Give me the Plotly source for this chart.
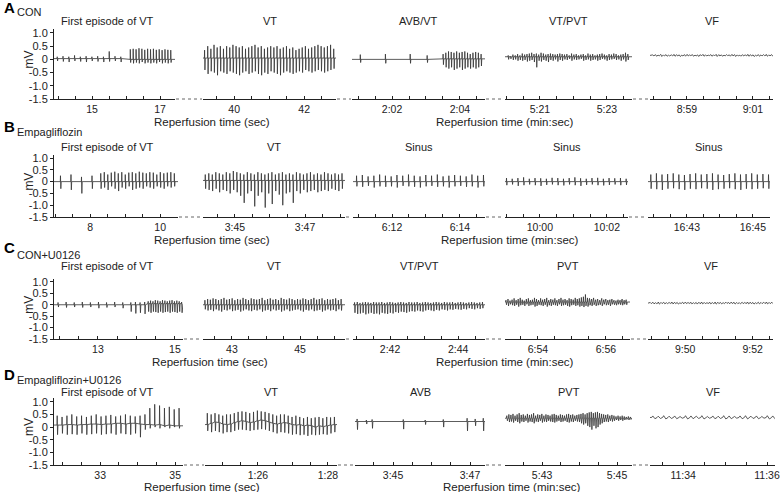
import plotly.graph_objects as go

# ------------------------------------------------------------------ data
ROW_LETTERS = ["A", "B", "C", "D"]
GROUPS = ["CON", "Empagliflozin", "CON+U0126", "Empagliflozin+U0126"]
RHYTHMS = [
    ["First episode of VT", "VT", "AVB/VT", "VT/PVT", "VF"],
    ["First episode of VT", "VT", "Sinus", "Sinus", "Sinus"],
    ["First episode of VT", "VT", "VT/PVT", "PVT", "VF"],
    ["First episode of VT", "VT", "AVB", "PVT", "VF"],
]
TICK_LABELS = [
    [["15", "17"], ["40", "42"], ["2:02", "2:04"], ["5:21", "5:23"], ["8:59", "9:01"]],
    [["8", "10"], ["3:45", "3:47"], ["6:12", "6:14"], ["10:00", "10:02"], ["16:43", "16:45"]],
    [["13", "15"], ["43", "45"], ["2:42", "2:44"], ["6:54", "6:56"], ["9:50", "9:52"]],
    [["33", "35"], ["1:26", "1:28"], ["3:45", "3:47"], ["5:43", "5:45"], ["11:34", "11:36"]],
]
# time window shown in each segment (s)
WINDOWS = [
    [(13.88, 17.44), (39.11, 42.91), (120.82, 124.74), (319.96, 323.75), (537.88, 541.61)],
    [(6.97, 10.51), (224.09, 228.14), (370.85, 374.74), (598.96, 602.63), (1001.82, 1005.52)],
    [(11.86, 15.21), (42.15, 46.32), (160.91, 164.79), (413.03, 416.71), (588.9, 592.6)],
    [(31.77, 35.21), (84.49, 88.26), (224.01, 227.39), (342.01, 345.4), (693.21, 696.19)],
]
X_TITLES = ["Reperfusion time (sec)", "Reperfusion time (min:sec)"]
Y_TICKS = [1.0, 0.5, 0, -0.5, -1.0, -1.5]
Y_TICK_TEXT = ["1.0", "0.5", "0", "-0.5", "-1.0", "-1.5"]

# beat trains: (timing, baseline mV, peak mV list, trough mV list, complex width s)
# timing = (first beat s, interval s) or an explicit list of beat times
A1 = [((13.97, 0.17), 0.03,
       [0.1, 0.12, 0.1, 0.15, 0.1, 0.12, 0.1, 0.12, 0.1, 0.3, 0.12, 0.1],
       [-0.06, -0.08, -0.1, -0.06, -0.08, -0.1, -0.06, -0.08, -0.1, -0.08, -0.06, -0.1], 0.025),
      ((16.12, 0.085), 0.0,
       [0.38, 0.4, 0.38, 0.42, 0.4, 0.36, 0.4, 0.38, 0.4, 0.36, 0.38, 0.35, 0.38, 0.36, 0.35],
       [-0.12, -0.15, -0.12, -0.15, -0.1, -0.15, -0.12, -0.15, -0.12, -0.15, -0.1, -0.15, -0.12, -0.15, -0.12], 0.025)]
A2 = [((39.15, 0.09), 0.05,
       [0.35, 0.5, 0.4, 0.55, 0.45, 0.5, 0.4, 0.5, 0.45, 0.55, 0.5, 0.45, 0.5, 0.4, 0.45, 0.5, 0.55, 0.45, 0.5, 0.4, 0.45,
        0.5, 0.45, 0.5, 0.4, 0.45, 0.5, 0.4, 0.45, 0.35, 0.4, 0.45, 0.5, 0.4, 0.45, 0.5, 0.55, 0.5, 0.45, 0.5, 0.55, 0.4],
       [-0.4, -0.55, -0.45, -0.5, -0.6, -0.45, -0.5, -0.55, -0.45, -0.5, -0.55, -0.6, -0.5, -0.45, -0.55, -0.5, -0.45,
        -0.55, -0.6, -0.5, -0.55, -0.45, -0.5, -0.55, -0.6, -0.5, -0.45, -0.5, -0.55, -0.5, -0.45, -0.5, -0.4, -0.45,
        -0.5, -0.45, -0.4, -0.45, -0.5, -0.45, -0.4, -0.35], 0.025)]
A3 = [([121.06, 121.8, 122.53, 123.03], 0.0, [0.18, 0.2, 0.2, 0.15], [-0.12, -0.15, -0.15, -0.12], 0.025),
      ((123.5, 0.08), 0.02,
       [0.2, 0.25, 0.3, 0.28, 0.25, 0.3, 0.25, 0.28, 0.3, 0.25, 0.2, 0.25, 0.28, 0.25, 0.2],
       [-0.2, -0.3, -0.35, -0.3, -0.4, -0.35, -0.3, -0.4, -0.35, -0.3, -0.35, -0.3, -0.35, -0.3, -0.25], 0.025)]
A4 = [((320.05, 0.07), 0.1,
       [0.15, 0.12, 0.18, 0.15, 0.2, 0.15, 0.22, 0.18, 0.2, 0.22, 0.25, 0.2, 0.22, 0.18, 0.25, 0.22, 0.18, 0.2, 0.22,
        0.2, 0.18, 0.2, 0.22, 0.2, 0.18, 0.2, 0.15, 0.22, 0.18, 0.2, 0.15, 0.18, 0.2, 0.15, 0.22, 0.18, 0.2, 0.15,
        0.18, 0.2, 0.22, 0.18, 0.15, 0.2, 0.18, 0.22, 0.2, 0.15, 0.18, 0.2, 0.25, 0.2],
       [0.0, 0.02, -0.02, 0.0, -0.05, -0.02, -0.05, -0.02, -0.08, -0.05, -0.02, -0.1, -0.3, -0.05, -0.08, -0.02,
        -0.05, -0.1, -0.02, -0.05, 0.0, -0.08, -0.02, -0.05, 0.0, -0.02, 0.02, -0.05, 0.0, -0.02, 0.0, 0.02, -0.05,
        -0.02, 0.0, -0.05, -0.02, 0.0, -0.05, -0.02, 0.02, 0.0, -0.05, -0.02, 0.0, 0.02, -0.02, 0.0, -0.05, 0.0,
        -0.08, -0.02], 0.03)]
A5 = [((537.95, 0.08), 0.15,
       [0.17, 0.18, 0.16, 0.19, 0.17, 0.18, 0.16, 0.17, 0.19, 0.18, 0.17, 0.16, 0.18, 0.19, 0.17, 0.18, 0.16, 0.17,
        0.18, 0.19, 0.17, 0.16, 0.18, 0.17, 0.19, 0.18, 0.17, 0.16, 0.18, 0.17, 0.19, 0.18, 0.17, 0.16, 0.18, 0.17,
        0.19, 0.18, 0.17, 0.16, 0.18, 0.17, 0.18, 0.19, 0.17, 0.18],
       [0.13, 0.12, 0.13, 0.11, 0.13, 0.12, 0.13, 0.14, 0.12, 0.13, 0.11, 0.13, 0.12, 0.13, 0.14, 0.12, 0.13, 0.11,
        0.13, 0.12, 0.13, 0.14, 0.12, 0.13, 0.11, 0.13, 0.12, 0.13, 0.14, 0.12, 0.13, 0.11, 0.13, 0.12, 0.13, 0.14,
        0.12, 0.13, 0.11, 0.13, 0.12, 0.13, 0.14, 0.12, 0.13, 0.13], 0.08)]

B1 = [([7.15, 7.45, 7.75, 8.05], 0.0, [0.25, 0.3, 0.2, 0.25], [-0.3, -0.35, -0.5, -0.3], 0.025),
      ((8.3, 0.1), 0.0,
       [0.35, 0.4, 0.3, 0.38, 0.42, 0.35, 0.4, 0.3, 0.38, 0.4, 0.35, 0.42, 0.38, 0.35, 0.4, 0.38, 0.3, 0.4, 0.35,
        0.38, 0.4, 0.35],
       [-0.3, -0.25, -0.35, -0.2, -0.3, -0.4, -0.25, -0.3, -0.2, -0.35, -0.3, -0.25, -0.3, -0.2, -0.25, -0.3, -0.2,
        -0.25, -0.3, -0.2, -0.25, -0.2], 0.025)]
B2 = [((224.15, 0.1), 0.05,
       [0.3, 0.35, 0.3, 0.4, 0.35, 0.3, 0.4, 0.35, 0.45, 0.4, 0.35, 0.3, 0.4, 0.35, 0.3, 0.4, 0.35, 0.3, 0.35, 0.4,
        0.3, 0.35, 0.4, 0.3, 0.35, 0.3, 0.4, 0.35, 0.3, 0.35, 0.4, 0.3, 0.35, 0.3, 0.4, 0.35, 0.3, 0.35, 0.3, 0.35],
       [-0.3, -0.35, -0.4, -0.3, -0.45, -0.35, -0.4, -0.5, -0.35, -0.45, -0.6, -0.9, -0.5, -0.4, -1.05, -0.6, -0.45,
        -1.1, -0.5, -0.95, -0.4, -0.55, -1.0, -0.5, -0.45, -0.9, -0.4, -0.5, -0.35, -0.45, -0.4, -0.35, -0.45, -0.4,
        -0.35, -0.4, -0.3, -0.35, -0.4, -0.3], 0.025)]
B3 = [((370.95, 0.17), 0.0,
       [0.25, 0.28, 0.22, 0.25, 0.3, 0.25, 0.22, 0.28, 0.25, 0.3, 0.25, 0.22, 0.28, 0.25, 0.3, 0.22, 0.25, 0.28,
        0.25, 0.22, 0.3, 0.25, 0.28],
       [-0.2, -0.22, -0.18, -0.25, -0.2, -0.22, -0.2, -0.25, -0.18, -0.2, -0.22, -0.25, -0.2, -0.18, -0.22, -0.2,
        -0.25, -0.2, -0.18, -0.22, -0.2, -0.25, -0.2], 0.025)]
B4 = [((599.0, 0.17), 0.0,
       [0.15, 0.12, 0.15, 0.18, 0.12, 0.15, 0.14, 0.12, 0.16, 0.15, 0.12, 0.15, 0.18, 0.14, 0.12, 0.15, 0.16, 0.12,
        0.15, 0.14, 0.15, 0.12],
       [-0.15, -0.12, -0.18, -0.15, -0.12, -0.15, -0.18, -0.14, -0.12, -0.15, -0.16, -0.12, -0.15, -0.18, -0.14,
        -0.12, -0.15, -0.16, -0.14, -0.12, -0.15, -0.14], 0.025)]
B5 = [((1001.9, 0.17), 0.0,
       [0.3, 0.35, 0.3, 0.32, 0.35, 0.3, 0.28, 0.32, 0.35, 0.3, 0.32, 0.35, 0.3, 0.28, 0.32, 0.35, 0.3, 0.32, 0.35,
        0.3, 0.32, 0.3],
       [-0.3, -0.32, -0.35, -0.3, -0.28, -0.32, -0.35, -0.3, -0.32, -0.28, -0.3, -0.35, -0.32, -0.3, -0.28, -0.32,
        -0.35, -0.3, -0.32, -0.3, -0.28, -0.3], 0.025)]

C1 = [((11.96, 0.21), 0.0, [0.1, 0.12, 0.1, 0.12, 0.1, 0.12, 0.1, 0.12, 0.1],
       [-0.1, -0.12, -0.1, -0.12, -0.1, -0.15, -0.12, -0.1, -0.15], 0.025),
      ((13.85, 0.12), 0.0, [0.1, 0.12, 0.1, 0.12], [-0.3, -0.38, -0.35, -0.4], 0.025),
      ((14.3, 0.062), 0.05,
       [0.15, 0.18, 0.15, 0.2, 0.18, 0.15, 0.2, 0.18, 0.15, 0.18, 0.2, 0.15, 0.18, 0.15, 0.12],
       [-0.3, -0.35, -0.3, -0.32, -0.35, -0.3, -0.35, -0.32, -0.3, -0.35, -0.3, -0.32, -0.35, -0.3, -0.35], 0.03)]
C2 = [((42.2, 0.08), 0.0,
       [0.2, 0.25, 0.22, 0.28, 0.25, 0.2, 0.25, 0.3, 0.22, 0.25, 0.28, 0.2, 0.25, 0.22, 0.3, 0.25, 0.2, 0.28, 0.25,
        0.22, 0.25, 0.3, 0.2, 0.25, 0.28, 0.22, 0.25, 0.2, 0.3, 0.25, 0.22, 0.28, 0.25, 0.2, 0.25, 0.22, 0.28, 0.25,
        0.2, 0.25, 0.3, 0.22, 0.25, 0.28, 0.2, 0.25, 0.22, 0.25, 0.28, 0.2, 0.25],
       [-0.2, -0.25, -0.22, -0.28, -0.2, -0.25, -0.3, -0.22, -0.25, -0.2, -0.28, -0.25, -0.22, -0.3, -0.25, -0.2,
        -0.25, -0.28, -0.22, -0.25, -0.2, -0.3, -0.25, -0.22, -0.28, -0.2, -0.25, -0.22, -0.3, -0.25, -0.2, -0.28,
        -0.25, -0.22, -0.2, -0.25, -0.3, -0.22, -0.25, -0.2, -0.28, -0.25, -0.22, -0.3, -0.25, -0.2, -0.25, -0.22,
        -0.28, -0.2, -0.25], 0.03)]
C3 = [((160.95, 0.08), 0.0,
       [0.1, 0.12, 0.08, 0.1, 0.12, 0.1, 0.08, 0.12, 0.1, 0.1, 0.12, 0.08, 0.1, 0.12, 0.1, 0.08, 0.1, 0.12, 0.1,
        0.08, 0.12, 0.1, 0.1, 0.12, 0.08, 0.1, 0.12, 0.1, 0.08, 0.1, 0.12, 0.1, 0.08, 0.12, 0.1, 0.1, 0.12, 0.08,
        0.1, 0.12, 0.1, 0.08, 0.1, 0.12, 0.1, 0.08, 0.1, 0.12],
       [-0.35, -0.4, -0.38, -0.35, -0.42, -0.38, -0.35, -0.4, -0.38, -0.42, -0.35, -0.38, -0.4, -0.35, -0.38, -0.32,
        -0.35, -0.3, -0.32, -0.35, -0.3, -0.28, -0.3, -0.25, -0.28, -0.3, -0.25, -0.22, -0.25, -0.28, -0.22, -0.25,
        -0.2, -0.22, -0.25, -0.2, -0.22, -0.18, -0.2, -0.22, -0.18, -0.2, -0.15, -0.18, -0.2, -0.15, -0.18, -0.15],
       0.03)]
C4 = [((413.05, 0.06), 0.12,
       [0.2, 0.25, 0.18, 0.22, 0.28, 0.2, 0.25, 0.3, 0.22, 0.18, 0.25, 0.28, 0.2, 0.22, 0.3, 0.25, 0.2, 0.28, 0.22,
        0.25, 0.3, 0.2, 0.25, 0.22, 0.28, 0.2, 0.25, 0.3, 0.22, 0.25, 0.2, 0.28, 0.25, 0.22, 0.3, 0.25, 0.28, 0.32,
        0.35, 0.45, 0.3, 0.28, 0.25, 0.3, 0.22, 0.25, 0.2, 0.28, 0.22, 0.25, 0.2, 0.22, 0.25, 0.2, 0.18, 0.22, 0.2,
        0.25, 0.2, 0.22],
       [0.0, -0.05, 0.02, -0.02, -0.05, 0.0, -0.08, -0.02, 0.0, -0.05, 0.02, -0.05, -0.02, 0.0, -0.08, -0.05, 0.0,
        -0.02, -0.05, 0.0, -0.08, -0.02, -0.05, 0.0, -0.02, -0.05, 0.02, -0.05, -0.02, 0.0, -0.05, -0.08, -0.02, 0.0,
        -0.05, -0.02, -0.08, -0.05, -0.1, -0.05, -0.08, -0.02, -0.05, 0.0, -0.05, -0.02, 0.0, -0.05, 0.02, -0.02,
        0.0, -0.05, 0.02, 0.0, -0.02, 0.02, 0.0, -0.02, 0.02, 0.0], 0.04)]
C5 = [((588.95, 0.08), 0.07,
       [0.1, 0.11, 0.09, 0.12, 0.1, 0.11, 0.09, 0.1, 0.12, 0.11, 0.1, 0.09, 0.11, 0.12, 0.1, 0.11, 0.09, 0.1, 0.11,
        0.12, 0.1, 0.09, 0.11, 0.1, 0.12, 0.11, 0.1, 0.09, 0.11, 0.1, 0.12, 0.11, 0.1, 0.09, 0.11, 0.1, 0.12, 0.11,
        0.1, 0.09, 0.11, 0.1, 0.11, 0.12, 0.1, 0.11],
       [0.05, 0.04, 0.05, 0.03, 0.05, 0.04, 0.05, 0.06, 0.04, 0.05, 0.03, 0.05, 0.04, 0.05, 0.06, 0.04, 0.05, 0.03,
        0.05, 0.04, 0.05, 0.06, 0.04, 0.05, 0.03, 0.05, 0.04, 0.05, 0.06, 0.04, 0.05, 0.03, 0.05, 0.04, 0.05, 0.06,
        0.04, 0.05, 0.03, 0.05, 0.04, 0.05, 0.06, 0.04, 0.05, 0.05], 0.08)]

D1 = [((31.85, 0.13),
       [0.08, 0.08, 0.1, 0.1, 0.08, 0.1, 0.1, 0.12, 0.12, 0.1, 0.12, 0.12, 0.15, 0.15, 0.12, 0.15, 0.15, 0.12, 0.1,
        0.1, 0.08, 0.1, 0.05, 0.08, 0.05, 0.05],
       [0.45, 0.4, 0.45, 0.5, 0.42, 0.45, 0.4, 0.45, 0.5, 0.42, 0.45, 0.48, 0.42, 0.45, 0.5, 0.45, 0.42, 0.45, 0.5,
        0.75, 0.9, 0.85, 0.75, 0.8, 0.7, 0.75],
       [-0.3, -0.25, -0.3, -0.28, -0.3, -0.25, -0.3, -0.28, -0.25, -0.3, -0.28, -0.25, -0.3, -0.25, -0.28, -0.3,
        -0.25, -0.4, -0.1, -0.05, 0.0, -0.05, 0.0, -0.05, 0.0, -0.05], 0.025)]
D2 = [((84.55, 0.11),
       [0.1, 0.15, 0.2, 0.18, 0.12, 0.1, 0.12, 0.18, 0.22, 0.25, 0.22, 0.18, 0.2, 0.25, 0.28, 0.25, 0.2, 0.15, 0.12,
        0.15, 0.18, 0.15, 0.1, 0.08, 0.1, 0.05, 0.08, 0.05, 0.0, 0.05, 0.02, 0.05, 0.08, 0.1],
       [0.55, 0.5, 0.55, 0.5, 0.45, 0.5, 0.5, 0.55, 0.6, 0.62, 0.6, 0.55, 0.6, 0.65, 0.62, 0.6, 0.55, 0.5, 0.45, 0.5,
        0.5, 0.45, 0.4, 0.45, 0.4, 0.35, 0.4, 0.35, 0.38, 0.4, 0.35, 0.4, 0.38, 0.4],
       [-0.15, -0.2, -0.15, -0.2, -0.25, -0.2, -0.2, -0.15, -0.1, -0.1, -0.12, -0.15, -0.12, -0.1, -0.08, -0.1,
        -0.15, -0.2, -0.25, -0.2, -0.22, -0.25, -0.3, -0.28, -0.32, -0.3, -0.35, -0.3, -0.32, -0.3, -0.28, -0.3,
        -0.25, -0.2], 0.03)]
D3 = [([224.06, 224.3, 224.45, 225.26, 225.83, 226.3, 226.92, 227.13, 227.34], 0.22,
       [0.32, 0.28, 0.3, 0.3, 0.28, 0.3, 0.35, 0.32, 0.35],
       [-0.1, 0.12, -0.05, -0.08, 0.1, 0.0, -0.15, 0.05, -0.15], 0.025)]
D4 = [((342.05, 0.055), 0.35,
       [0.45, 0.5, 0.48, 0.52, 0.45, 0.5, 0.55, 0.48, 0.5, 0.45, 0.52, 0.48, 0.5, 0.55, 0.45, 0.5, 0.48, 0.52, 0.45,
        0.5, 0.48, 0.45, 0.5, 0.52, 0.48, 0.45, 0.5, 0.48, 0.45, 0.5, 0.52, 0.48, 0.5, 0.45, 0.48, 0.5, 0.52, 0.55,
        0.5, 0.55, 0.58, 0.6, 0.55, 0.58, 0.6, 0.55, 0.52, 0.5, 0.48, 0.5, 0.45, 0.48, 0.45, 0.42, 0.45, 0.42, 0.45,
        0.42, 0.4, 0.42, 0.4],
       [0.25, 0.2, 0.22, 0.18, 0.25, 0.2, 0.15, 0.22, 0.2, 0.25, 0.18, 0.22, 0.2, 0.15, 0.22, 0.2, 0.25, 0.18, 0.22,
        0.2, 0.25, 0.22, 0.2, 0.18, 0.22, 0.25, 0.2, 0.22, 0.25, 0.2, 0.18, 0.22, 0.2, 0.25, 0.22, 0.2, 0.15, 0.1,
        0.15, 0.05, 0.0, -0.1, 0.05, -0.05, 0.0, 0.1, 0.15, 0.2, 0.22, 0.2, 0.25, 0.22, 0.25, 0.28, 0.25, 0.28, 0.25,
        0.28, 0.3, 0.28, 0.3], 0.04)]
D5 = [((693.25, 0.13), 0.38,
       [0.44, 0.43, 0.45, 0.43, 0.44, 0.42, 0.45, 0.44, 0.43, 0.45, 0.42, 0.44, 0.43, 0.45, 0.44, 0.42, 0.44, 0.45,
        0.43, 0.44, 0.42, 0.45, 0.44],
       [0.33, 0.34, 0.32, 0.34, 0.33, 0.35, 0.32, 0.33, 0.34, 0.32, 0.35, 0.33, 0.34, 0.32, 0.33, 0.35, 0.33, 0.32,
        0.34, 0.33, 0.35, 0.32, 0.33], 0.13)]

PANELS = [[A1, A2, A3, A4, A5], [B1, B2, B3, B4, B5], [C1, C2, C3, C4, C5], [D1, D2, D3, D4, D5]]

# ------------------------------------------------------------------ layout (pixels)
W, H = 783, 492
ROW_PX = [(29, 99), (154.5, 217), (278.5, 339), (398, 465)]        # top / bottom of plot strip
SEG_PX = [
    [(54, 175), (203, 336), (352, 485), (505, 632), (650, 773)],
    [(54, 178), (203, 345), (353, 485), (505, 628), (648, 770)],
    [(54, 183), (203, 345), (353, 485), (505, 630), (648, 773)],
    [(54, 183), (205, 337), (355, 485), (505, 632), (650, 775)],
]
LETTER_Y = [7, 126, 248, 374]
GROUP_Y = [12, 132, 255, 380]
RHYTHM_Y = [21, 147, 266, 392]
TITLE_Y = [121.5, 240, 362, 486.5]
TITLE_X = [(212, 505), (212, 510), (210, 505), (202, 512)]
FONT = "Liberation Sans, Arial, sans-serif"
INK = "#222222"


def px(x):
    return x / W


def py(y):
    return 1 - y / H


def secs(label):
    if ":" in label:
        m, s = label.split(":")
        return int(m) * 60 + int(s)
    return int(label)


def build(trains, win):
    xs, ys = [win[0]], []
    first_base = trains[0][1]
    ys.append(first_base[0] if isinstance(first_base, list) else first_base)
    for timing, base, up, dn, w in trains:
        if isinstance(timing, tuple):
            t0, rr = timing
            times = [t0 + i * rr for i in range(len(up))]
        else:
            times = timing
        for i, (t, u, d) in enumerate(zip(times, up, dn)):
            b = base[i] if isinstance(base, list) else base
            xs += [t, t + 0.2 * w, t + 0.6 * w, t + w]
            ys += [b, u, d, b]
    xs.append(win[1])
    ys.append(ys[-1])
    return xs, ys


fig = go.Figure()
lay = dict(width=W, height=H, margin=dict(l=0, r=0, t=0, b=0, pad=0, autoexpand=False),
           paper_bgcolor="white", plot_bgcolor="white", showlegend=False,
           font=dict(family=FONT, size=11, color=INK))
annotations, shapes = [], []

for r in range(4):
    top, bot = ROW_PX[r]
    yid = "y" if r == 0 else f"y{r + 1}"
    ykey = "yaxis" if r == 0 else f"yaxis{r + 1}"
    first_x = None
    for k in range(5):
        idx = r * 5 + k + 1
        xid = "x" if idx == 1 else f"x{idx}"
        xkey = "xaxis" if idx == 1 else f"xaxis{idx}"
        if k == 0:
            first_x = xid
        win = WINDOWS[r][k]
        labs = TICK_LABELS[r][k]
        labsec = {secs(l): l for l in labs}
        tv, tt = [], []
        v = int(win[0] * 2 + 1) / 2.0
        while v <= win[1]:
            tv.append(v)
            tt.append(labsec.get(v, "") if float(v).is_integer() else "")
            v += 0.5
        x0, x1 = SEG_PX[r][k]
        lay[xkey] = dict(domain=[px(x0), px(x1)], range=list(win), anchor=yid, showline=True,
                         linecolor=INK, linewidth=1, showgrid=False, zeroline=False, automargin=False,
                         tickmode="array", tickvals=tv, ticktext=tt, ticks="inside", ticklen=3,
                         ticklabelstandoff=0,
                         tickcolor=INK, tickfont=dict(size=10.5, color=INK, family=FONT), fixedrange=True)
        xs, ys = build(PANELS[r][k], win)
        fig.add_trace(go.Scatter(x=xs, y=ys, mode="lines", line=dict(color="#333333", width=0.8),
                                 xaxis=xid, yaxis=yid, hoverinfo="skip"))
        if k == 0:
            annotations.append(dict(text=RHYTHMS[r][k], x=px(59), y=py(RHYTHM_Y[r]), xref="paper",
                                    yref="paper", xanchor="left", yanchor="middle", showarrow=False,
                                    font=dict(size=11, color=INK, family=FONT)))
        else:
            annotations.append(dict(text=RHYTHMS[r][k], x=px((x0 + x1) / 2), y=py(RHYTHM_Y[r]),
                                    xref="paper", yref="paper", xanchor="center", yanchor="middle",
                                    showarrow=False, font=dict(size=11, color=INK, family=FONT)))
        if k < 4:
            nx0 = SEG_PX[r][k + 1][0]
            shapes.append(dict(type="line", xref="paper", yref="paper", x0=px(x1 + 1), x1=px(nx0 - 1),
                               y0=py(bot), y1=py(bot), line=dict(color="#666666", width=1, dash="dot")))
    lay[ykey] = dict(domain=[py(bot), py(top)], range=[-1.5, 1.15], anchor=first_x, showline=True,
                     linecolor=INK, linewidth=1, showgrid=False, zeroline=False, automargin=False,
                     tickmode="array",
                     tickvals=Y_TICKS, ticktext=Y_TICK_TEXT, ticks="outside", ticklen=3, tickcolor=INK,
                     tickfont=dict(size=11, color=INK, family=FONT), fixedrange=True)
    annotations.append(dict(text=f"<b>{ROW_LETTERS[r]}</b>", x=px(2), y=py(LETTER_Y[r]), xref="paper",
                            yref="paper", xanchor="left", yanchor="middle", showarrow=False,
                            font=dict(size=15, color="#000", family=FONT)))
    annotations.append(dict(text=GROUPS[r], x=px(15), y=py(GROUP_Y[r]), xref="paper", yref="paper",
                            xanchor="left", yanchor="middle", showarrow=False,
                            font=dict(size=11, color=INK, family=FONT)))
    y0px = top + (bot - top) * (1.15 - 0) / 2.65
    annotations.append(dict(text="mV", x=px(29), y=py(y0px), xref="paper", yref="paper",
                            xanchor="center", yanchor="middle", textangle=-90, showarrow=False,
                            font=dict(size=12, color=INK, family=FONT)))
    for j, t in enumerate(X_TITLES):
        annotations.append(dict(text=t, x=px(TITLE_X[r][j]), y=py(TITLE_Y[r]), xref="paper",
                                yref="paper", xanchor="center", yanchor="middle", showarrow=False,
                                font=dict(size=11.5, color=INK, family=FONT)))

lay["annotations"] = annotations
lay["shapes"] = shapes
fig.update_layout(**lay)
fig.write_html("out.html", config={"displayModeBar": False, "responsive": False},
               post_script="document.body.style.margin='0';document.body.style.overflow='hidden';")
